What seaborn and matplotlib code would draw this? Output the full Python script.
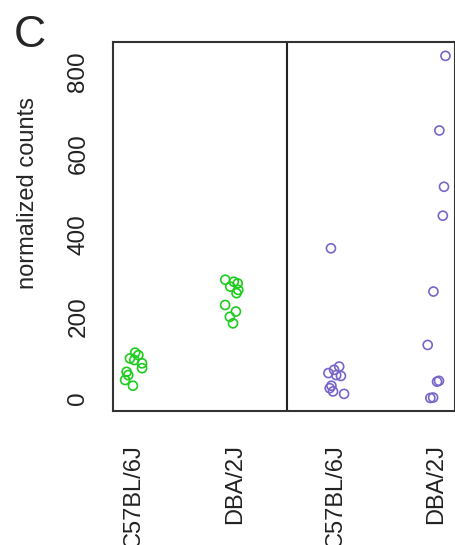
import numpy as np
import pandas as pd
import matplotlib
matplotlib.use("Agg")
import matplotlib.pyplot as plt
import seaborn as sns

# ---- data ----
tick_labels = ["C57BL/6J", "DBA/2J", "C57BL/6J", "DBA/2J"]
groups = ["green_C57", "green_DBA", "purple_C57", "purple_DBA"]
panel_colors = {"green": "#1DCC1D", "purple": "#7866C8"}

green_c57 = [111, 105, 97, 93, 85, 73, 64, 56, 44, 30]
green_dba = [290, 285, 281, 273, 265, 257, 228, 212, 199, 183]
purple_c57 = [367, 77, 69, 61, 56, 54, 30, 24, 16, 10]
purple_dba = [839, 656, 518, 447, 261, 130, 42, 40, 1, 0]

yticks = [0, 200, 400, 600, 800]
ylabel = "normalized counts"
panel_letter = "C"

values = [green_c57, green_dba, purple_c57, purple_dba]
rows = []
for g, vals in zip(groups, values):
    for v in vals:
        rows.append({"group": g, "panel": g.split("_")[0], "count": v})
df = pd.DataFrame(rows)

sns.set_style("white")
plt.rcParams["font.family"] = ["Liberation Sans", "DejaVu Sans"]

fig = plt.figure(figsize=(4.56, 5.45), dpi=100)
ax = fig.add_axes([113 / 456, 1 - 411 / 545, 342 / 456, (411 - 42) / 545])

np.random.seed(3)
sns.stripplot(data=df, x="group", y="count", hue="panel", order=groups,
              palette=panel_colors, jitter=0.1, size=6.5, linewidth=1.2,
              legend=False, ax=ax, zorder=3)
for coll in ax.collections:
    fc = coll.get_facecolors()
    coll.set_edgecolors(fc)
    coll.set_facecolors("none")

ax.set_xlim(-0.21, 3.19)
ax.set_ylim(-32, 873)
ax.axvline(1.52, color="#222222", lw=1.5, zorder=2)

ax.set_xticks(range(len(tick_labels)))
ax.set_xticklabels(tick_labels, rotation=90, fontsize=17)
ax.set_yticks(yticks)
ax.set_yticklabels([str(t) for t in yticks], rotation=90, va="center", fontsize=17.5)
ax.set_xlabel("")
ax.set_ylabel(ylabel, fontsize=17)
ax.yaxis.set_label_coords(-0.215, 0.59)
ax.tick_params(axis="y", length=12, width=1.4, color="#333333", pad=5, labelcolor="#222222")
ax.tick_params(axis="x", length=15, width=1.4, color="#333333", pad=9, labelcolor="#222222")
for side in ["left", "top", "bottom", "right"]:
    ax.spines[side].set_visible(True)
    ax.spines[side].set_color("#333333")
    ax.spines[side].set_linewidth(1.5)

fig.text(14 / 456, 1 - 47 / 545, panel_letter, fontsize=32, va="baseline", ha="left")

fig.savefig("out.png", dpi=100)
